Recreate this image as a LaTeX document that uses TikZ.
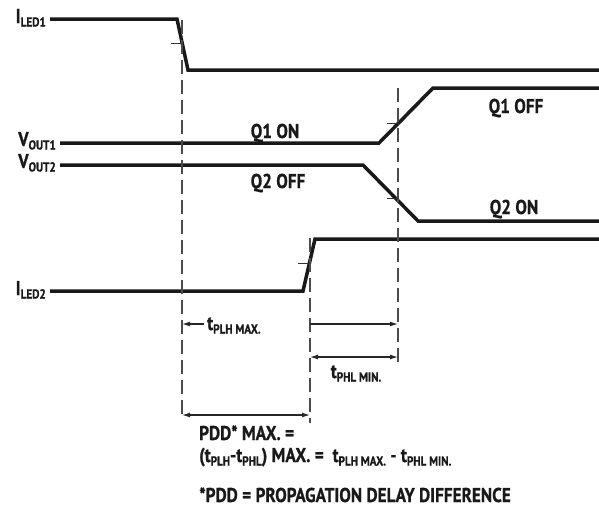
\documentclass[tikz,border=0pt]{standalone}
\usepackage{fontspec}
\setmainfont{PT Sans}[FakeStretch=0.86,BoldFeatures={FakeStretch=0.86,FakeBold=0.8}]
\usetikzlibrary{arrows.meta}
\newcommand{\lsub}[1]{\raisebox{-0.35ex}{\fontsize{13}{13}\selectfont #1}}

\begin{document}
\begin{tikzpicture}[x=1pt,y=-1pt,
    sig/.style={line width=3.5pt,black!90},
    guide/.style={line width=1.1pt,black!70,dash pattern=on 14pt off 6pt},
    dim/.style={line width=1.2pt,black!85},
    tickmark/.style={line width=0.9pt,black!80},
    lbl/.style={font=\bfseries\fontsize{20}{24}\selectfont,text=black!90,inner sep=0pt}]
  \useasboundingbox (0,0) rectangle (599,514);
  % signalnavne
  \node[lbl,anchor=base east] (iledA) at (46,23) {I\lsub{LED1}};
  \node[lbl,anchor=base east] (voutA) at (56,146) {V\lsub{OUT1}};
  \node[lbl,anchor=base east] (voutB) at (56,168) {V\lsub{OUT2}};
  \node[lbl,anchor=base east] (iledB) at (46,295) {I\lsub{LED2}};
  % kurverne
  \draw[sig] (iledA.east |- 0,19) ++(4,0) -- (177,19) -- (188,70) -- (599,70);
  \draw[sig] (voutA.east |- 0,143) ++(4,0) -- (379,143) -- (433,88) -- (599,88);
  \draw[sig] (voutB.east |- 0,165) ++(4,0) -- (363,165) -- (418,221) -- (599,221);
  \draw[sig] (iledB.east |- 0,291) ++(4,0) -- (303,291) -- (315,239) -- (599,239);
  % tilstande
  \node[lbl,anchor=base] (qAon) at (275,138) {Q1 ON};
  \node[lbl,anchor=base] (qBoff) at (278,188) {Q2 OFF};
  \node[lbl,anchor=base] (qAoff) at (516,113) {Q1 OFF};
  \node[lbl,anchor=base] (qBon) at (514,214) {Q2 ON};
  % hjaelpelinjer
  \coordinate (gAtop) at (182,20);   \coordinate (gAbot) at (182,420);
  \coordinate (gBtop) at (398,88);   \coordinate (gBbot) at (398,368);
  \coordinate (gCtop) at (310,238);  \coordinate (gCbot) at (310,423);
  \draw[guide] (gAtop) -- (gAbot);
  \draw[guide] (gBtop) -- (gBbot);
  \draw[guide] (gCtop) -- (gCbot);
  % 50%-maerker
  \draw[tickmark] (171,43) -- (183,43);
  \draw[tickmark] (387,123) -- (399,123);
  \draw[tickmark] (387,198) -- (399,198);
  \draw[tickmark] (298,263) -- (311,263);
  % tider
  \coordinate (plhA) at (182,324);  \coordinate (plhB) at (204,324);
  \coordinate (phlA) at (310,324);  \coordinate (phlB) at (398,324);
  \coordinate (phlC) at (310,357);  \coordinate (phlD) at (398,357);
  \coordinate (pddA) at (182,415);  \coordinate (pddB) at (310,415);
  \draw[dim,-{Latex[length=8pt,width=5pt]}] (plhB) -- (plhA);
  \draw[dim,-{Latex[length=8pt,width=5pt]}] (phlA) -- (phlB);
  \draw[dim,{Latex[length=8pt,width=5pt]}-{Latex[length=8pt,width=5pt]}] (phlC) -- (phlD);
  \draw[dim,{Latex[length=8pt,width=5pt]}-{Latex[length=8pt,width=5pt]}] (pddA) -- (pddB);
  \node[lbl,anchor=base west] (tplh) at (207,330) {t\lsub{PLH MAX.}};
  \node[lbl,anchor=base] (tphl) at (356,378) {t\lsub{PHL MIN.}};
  % formel
  \node[lbl,anchor=base west] (pddA txt) at (199,440) {PDD* MAX. =};
  \node[lbl,anchor=base west] (pddB txt) at (199,462)
    {(t\lsub{PLH}-t\lsub{PHL}) MAX. = \ t\lsub{PLH MAX.} - t\lsub{PHL MIN.}};
  \node[lbl,anchor=base west] (note) at (199,502) {*PDD = PROPAGATION DELAY DIFFERENCE};
\end{tikzpicture}
\end{document}
